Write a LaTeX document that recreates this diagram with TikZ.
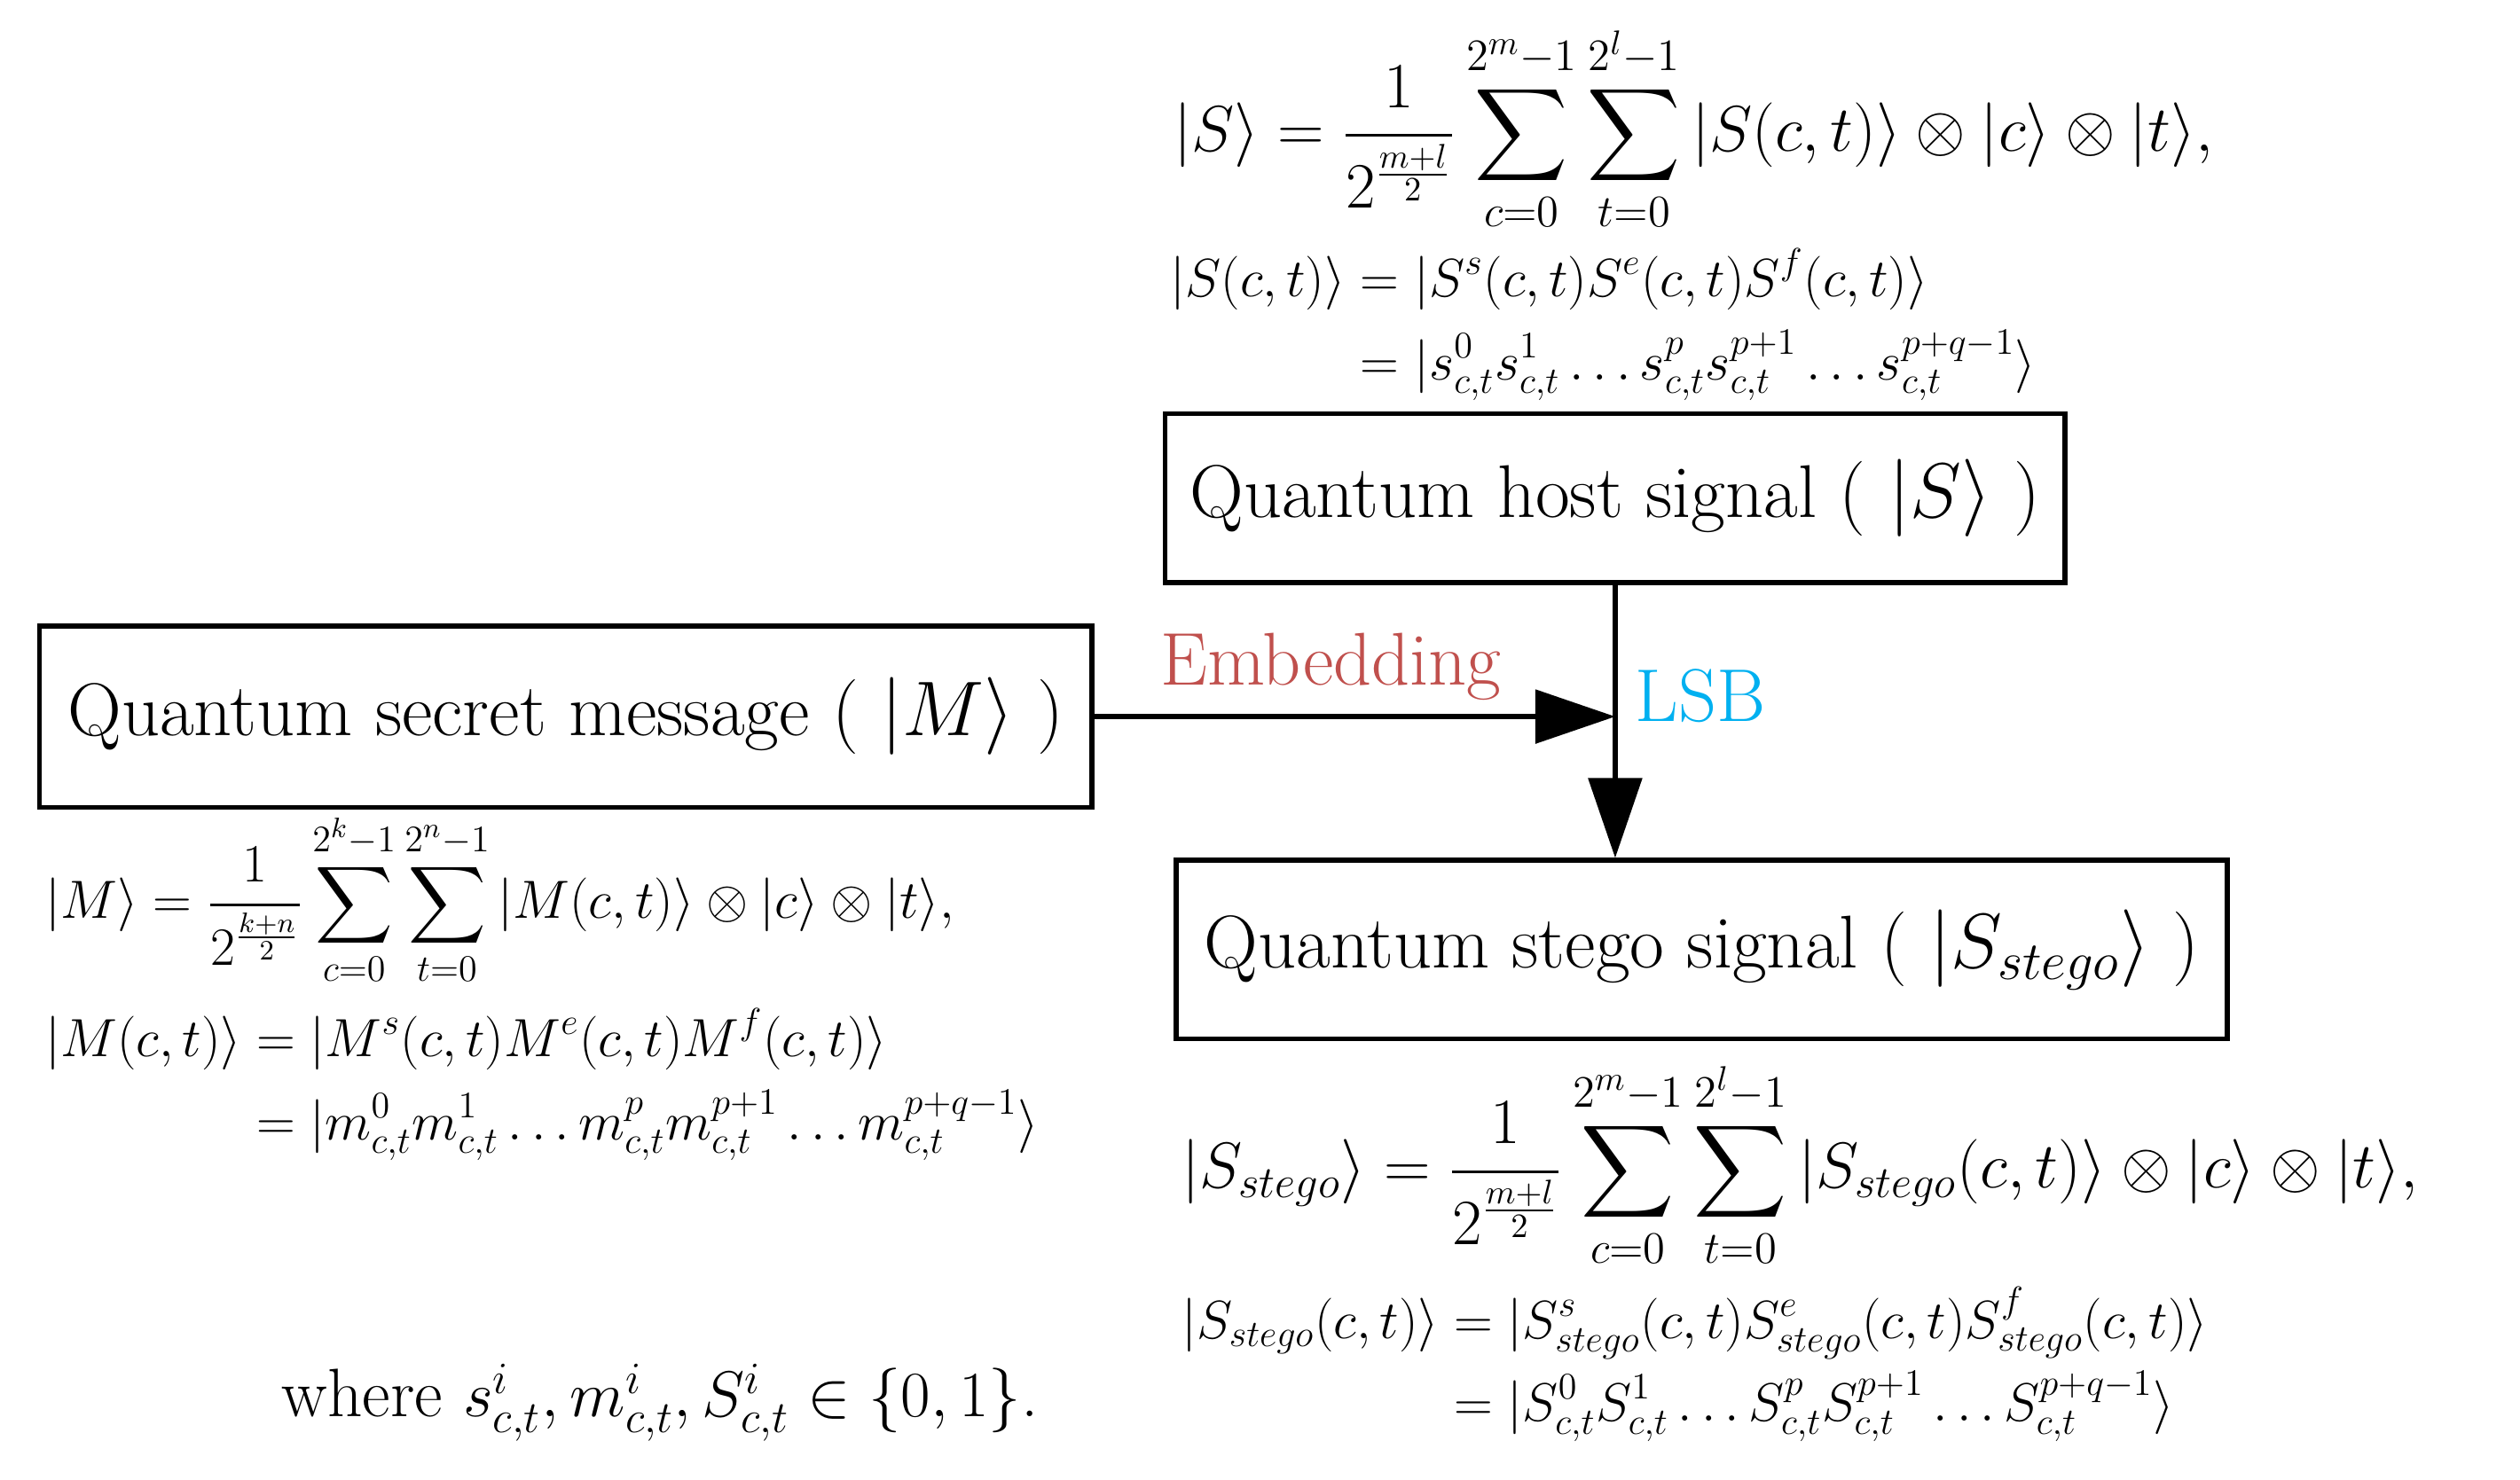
\documentclass[tikz,border=0pt]{standalone}
\usepackage{amsmath}
\usetikzlibrary{arrows.meta}
\definecolor{embred}{RGB}{192,80,77}
\definecolor{lsbblue}{RGB}{0,176,240}
\begin{document}
\begin{tikzpicture}[
    x=0.01812cm, y=-0.01812cm,
    signal/.style={rectangle, draw, line width=1.6pt, inner sep=0pt,
        font=\fontsize{24}{28}\selectfont},
    eqn/.style={anchor=west, inner sep=0pt, font=\fontsize{18}{22}\selectfont},
    bigeqn/.style={anchor=west, inner sep=0pt, font=\fontsize{22}{26}\selectfont},
    flow/.style={line width=1.6pt, -{Triangle[length=0.9cm, width=0.6cm]}}
]
\useasboundingbox (0,0) rectangle (1568,921);
% boxes
\node (Host) [signal, minimum width=560*0.01812cm, minimum height=105*0.01812cm]
    at (1005,310) {Quantum host signal ( $|S\rangle$ )};
\node (Secret) [signal, minimum width=655*0.01812cm, minimum height=113*0.01812cm]
    at (352,446) {Quantum secret message ( $|M\rangle$ )};
\node (Stego) [signal, minimum width=654*0.01812cm, minimum height=111*0.01812cm]
    at (1059,591) {Quantum stego signal ( $|S_{stego}\rangle$ )};
\coordinate (Join) at (1005,446);
% connectors
\draw [flow] (Secret.east) -- (Join);
\draw [flow] (Host.south) -- (Stego.north -| Host.south);
\node (Embed) [font=\fontsize{24}{28}\selectfont, text=embred] at (828,415) {Embedding};
\node (Lsb) [font=\fontsize{24}{28}\selectfont, text=lsbblue] at (1058,433) {LSB};
% equations
\node (EqS) [bigeqn] at (730,80)
    {$|S\rangle=\dfrac{1}{2^{\frac{m+l}{2}}}\displaystyle\sum_{c=0}^{2^m-1}\sum_{t=0}^{2^l-1}|S(c,t)\rangle\otimes|c\rangle\otimes|t\rangle,$};
\node (EqSct) [eqn] at (728,202)
    {$\begin{aligned}|S(c,t)\rangle&=|S^s(c,t)S^e(c,t)S^f(c,t)\rangle\\
    &=|s^0_{c,t}s^1_{c,t}\ldots s^p_{c,t}s^{p+1}_{c,t}\ldots s^{p+q-1}_{c,t}\rangle\end{aligned}$};
\node (EqM) [eqn] at (28,560)
    {$|M\rangle=\dfrac{1}{2^{\frac{k+n}{2}}}\displaystyle\sum_{c=0}^{2^k-1}\sum_{t=0}^{2^n-1}|M(c,t)\rangle\otimes|c\rangle\otimes|t\rangle,$};
\node (EqMct) [eqn] at (28,675)
    {$\begin{aligned}|M(c,t)\rangle&=|M^s(c,t)M^e(c,t)M^f(c,t)\rangle\\
    &=|m^0_{c,t}m^1_{c,t}\ldots m^p_{c,t}m^{p+1}_{c,t}\ldots m^{p+q-1}_{c,t}\rangle\end{aligned}$};
\node (EqStego) [bigeqn] at (735,725)
    {$|S_{stego}\rangle=\dfrac{1}{2^{\frac{m+l}{2}}}\displaystyle\sum_{c=0}^{2^m-1}\sum_{t=0}^{2^l-1}|S_{stego}(c,t)\rangle\otimes|c\rangle\otimes|t\rangle,$};
\node (EqStegoct) [eqn] at (735,849)
    {$\begin{aligned}|S_{stego}(c,t)\rangle&=|S^s_{stego}(c,t)S^e_{stego}(c,t)S^f_{stego}(c,t)\rangle\\
    &=|S^0_{c,t}S^1_{c,t}\ldots S^p_{c,t}S^{p+1}_{c,t}\ldots S^{p+q-1}_{c,t}\rangle\end{aligned}$};
\node (Where) [eqn, font=\fontsize{22}{26}\selectfont] at (175,873)
    {where $s^i_{c,t},m^i_{c,t},S^i_{c,t}\in\{0,1\}$.};
\end{tikzpicture}
\end{document}
